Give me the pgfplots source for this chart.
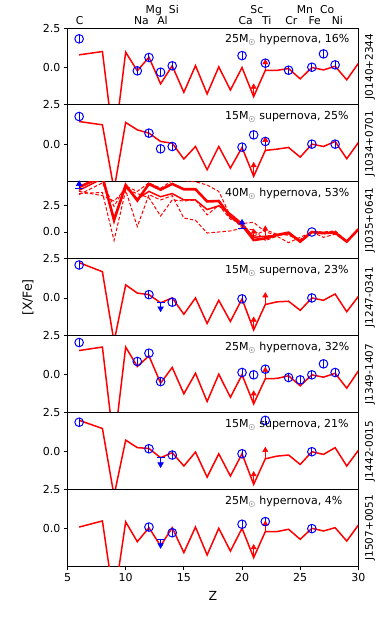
\documentclass[border=0pt]{standalone}
\usepackage{pgfplots}
\pgfplotsset{compat=1.18}
\usepackage{fontspec}
\setmainfont{DejaVu Sans}

\pgfplotsset{
  panel/.style={scale only axis, width=290.9pt, height=76.9pt, anchor=south west,
    xmin=5, xmax=30, ymin=-2.4, ymax=2.5, ytick={0,2.5}, yticklabels={0.0,2.5},
    xtick=\empty, tick align=outside, ytick pos=left, xtick pos=bottom,
    major tick length=3.5pt, axis line style={line width=0.8pt},
    tick style={black, line width=0.8pt},
    tick label style={font=\fontsize{11}{13}\selectfont},
    /pgf/number format/assume math mode=true},
  model/.style={red, line width=1.5pt, no markers},
  obs/.style={blue, only marks, mark=o, mark size=4.3pt, line width=1pt,
    error bars/.cd, y dir=both, y fixed=0.25, error mark=none,
    error bar style={line width=1pt, blue}},
}
% limit marker with bar: colour, Z, base, tip, rotation of the head
\newcommand{\limmark}[5]{%
  \addplot[#1, line width=1pt, forget plot] coordinates {(#2,#3) (#2,#4)};
  \addplot[#1, only marks, mark=-, mark size=4pt, mark options={line width=1pt}, forget plot] coordinates {(#2,#3)};
  \addplot[#1, only marks, mark=triangle*, mark size=3.3pt, mark options={rotate=#5}, forget plot] coordinates {(#2,#4)};
}
% model lower limit (red arrow): Z, base, tip
\newcommand{\modarrow}[3]{%
  \addplot[red, line width=1pt, forget plot] coordinates {(#1,#2) (#1,#3)};
  \addplot[red, only marks, mark=triangle*, mark size=3pt, forget plot] coordinates {(#1,#3)};
}

\begin{document}
\begin{tikzpicture}[x=1pt, y=1pt]
\path (0,0) rectangle (390,625);

% J0140+2344
\begin{axis}[panel, at={(67.5pt,520.1pt)}]
\addplot[model] coordinates {(6,0.79)(8,1.0)(9,-5)(10,0.96)(11,-0.23)(12,0.64)(13,-1.06)(14,0.09)(15,-1.6)(16,0.1)(17,-1.7)(18,0.02)(19,-1.45)(20,-0.02)(21,-1.87)(22,-0.2)(23,-0.2)(24,-0.08)(25,-0.74)(26,-0.02)(27,-0.17)(28,0.06)(29,-0.8)(30,0.25)};
\modarrow{21}{-1.87}{-1.25}
\modarrow{22}{-0.2}{0.3}
\addplot[obs] coordinates {(6,1.81)(11,-0.23)(12,0.62)(13,-0.32)(14,0.09)(20,0.74)(22,0.26)(24,-0.19)(26,0.0)(27,0.85)(28,0.15)};
\end{axis}

% J1034+0701
\begin{axis}[panel, at={(67.5pt,443.2pt)}]
\addplot[model] coordinates {(6,1.44)(8,1.23)(9,-2.9)(10,1.38)(11,0.91)(12,0.70)(13,0.17)(14,0.06)(15,-0.95)(16,-0.15)(17,-1.63)(18,-0.15)(19,-1.53)(20,-0.21)(21,-2.05)(22,-0.4)(23,-0.32)(24,-0.21)(25,-0.83)(26,0.0)(27,-0.15)(28,0.17)(29,-0.93)(30,0.1)};
\modarrow{21}{-2.05}{-1.35}
\modarrow{22}{-0.4}{0.26}
\addplot[obs] coordinates {(6,1.76)(12,0.70)(13,-0.3)(14,-0.15)(20,-0.19)(21,0.59)(22,0.17)(26,0.0)(28,0.0)};
\end{axis}

% J1035+0641
\begin{axis}[panel, at={(67.5pt,366.3pt)}, ymin=-2.5, ymax=4.7]
\addplot[red, line width=1pt, dash pattern=on 3.5pt off 2pt] coordinates {(6,3.6)(8,3.7)(9,-0.8)(10,3.9)(11,0.5)(12,3.5)(13,3.0)(14,3.4)(15,1.3)(16,1.1)(17,-0.1)(18,0.0)(19,0.1)(20,0.35)(21,0.2)(22,-0.8)(23,-0.4)(24,-1.0)(25,-0.5)(26,0.0)(27,-0.5)(28,-0.2)(29,-0.9)(30,0.25)};
\addplot[red, line width=1pt, dash pattern=on 3.5pt off 2pt] coordinates {(6,3.8)(8,3.4)(9,2.9)(10,4.0)(11,3.6)(12,3.2)(13,1.5)(14,3.0)(15,2.9)(16,3.0)(17,1.6)(18,2.5)(19,1.2)(20,0.8)(21,0.9)(22,0.0)(23,-0.3)(24,-0.2)(25,-0.7)(26,0.0)(27,-0.2)(28,0.1)(29,-0.9)(30,0.25)};
\addplot[red, line width=1pt, dash pattern=on 3.5pt off 2pt] coordinates {(6,3.5)(8,4.6)(9,2.4)(10,4.3)(11,3.8)(12,4.6)(13,4.1)(14,4.8)(15,4.8)(16,4.7)(17,4.4)(18,3.8)(19,1.5)(20,0.4)(21,-0.4)(22,0.2)(23,-0.2)(24,-0.3)(25,-0.8)(26,0.0)(27,0.0)(28,0.1)(29,-0.9)(30,0.25)};
\addplot[red, line width=1.5pt] coordinates {(6,3.9)(8,5.0)(9,1.3)(10,4.2)(11,3.1)(12,3.8)(13,3.3)(14,3.6)(15,3.0)(16,3.0)(17,2.1)(18,2.45)(19,1.7)(20,0.8)(21,-0.5)(22,-0.4)(23,-0.3)(24,-0.15)(25,-0.9)(26,0.0)(27,-0.1)(28,-0.05)(29,-0.9)(30,0.25)};
\addplot[red, line width=2.6pt] coordinates {(6,4.2)(8,5.2)(9,1.1)(10,4.4)(11,2.95)(12,4.5)(13,3.96)(14,4.5)(15,4.0)(16,4.0)(17,2.86)(18,2.9)(19,1.45)(20,0.66)(21,-0.75)(22,-0.6)(23,-0.28)(24,-0.06)(25,-0.9)(26,0.0)(27,-0.1)(28,-0.05)(29,-0.9)(30,0.25)};
\modarrow{21}{-0.7}{0.0}
\modarrow{22}{-0.5}{0.3}
\limmark{blue}{6}{4.05}{4.5}{0}
\limmark{blue}{20}{0.35}{0.88}{0}
\addplot[blue, only marks, mark=o, mark size=4.3pt, line width=1pt] coordinates {(26,0.0)};
\end{axis}

% J1247-0341
\begin{axis}[panel, at={(67.5pt,289.4pt)}]
\addplot[model] coordinates {(6,2.25)(8,1.67)(9,-2.8)(10,0.83)(11,0.31)(12,0.21)(13,-0.31)(14,0.0)(15,-1.04)(16,0.0)(17,-1.63)(18,-0.15)(19,-1.5)(20,-0.06)(21,-2.04)(22,-0.42)(23,-0.25)(24,-0.21)(25,-0.79)(26,0.0)(27,-0.15)(28,0.25)(29,-0.88)(30,0.1)};
\modarrow{21}{-2.04}{-1.4}
\modarrow{22}{-0.42}{0.15}
\limmark{blue}{13}{-0.27}{-0.67}{180}
\addplot[obs] coordinates {(6,2.1)(12,0.21)(14,-0.27)(20,-0.06)(26,0.0)};
\end{axis}

% J1349-1407
\begin{axis}[panel, at={(67.5pt,212.5pt)}]
\addplot[model] coordinates {(6,1.55)(8,1.77)(9,-4.5)(10,1.77)(11,0.53)(12,1.21)(13,-0.53)(14,0.47)(15,-1.21)(16,0.1)(17,-1.7)(18,0.04)(19,-1.43)(20,0.0)(21,-1.85)(22,-0.25)(23,-0.23)(24,-0.06)(25,-0.7)(26,0.0)(27,-0.15)(28,0.1)(29,-0.85)(30,0.25)};
\modarrow{21}{-1.85}{-1.2}
\modarrow{22}{-0.25}{0.3}
\addplot[obs] coordinates {(6,2.06)(11,0.85)(12,1.38)(13,-0.43)(20,0.15)(21,0.0)(22,0.36)(24,-0.17)(25,-0.32)(26,0.0)(27,0.7)(28,0.15)};
\end{axis}

% J1442-0015
\begin{axis}[panel, at={(67.5pt,135.6pt)}]
\addplot[model] coordinates {(6,2.0)(8,1.48)(9,-2.8)(10,0.74)(11,0.26)(12,0.21)(13,-0.38)(14,-0.06)(15,-0.91)(16,-0.02)(17,-1.62)(18,-0.13)(19,-1.55)(20,-0.13)(21,-2.08)(22,-0.45)(23,-0.28)(24,-0.21)(25,-0.81)(26,0.0)(27,-0.17)(28,0.26)(29,-0.91)(30,0.09)};
\modarrow{21}{-2.08}{-1.45}
\modarrow{22}{-0.45}{0.1}
\limmark{blue}{13}{-0.38}{-0.8}{180}
\addplot[obs] coordinates {(6,1.88)(12,0.19)(14,-0.21)(20,-0.13)(22,2.0)(26,0.0)};
\end{axis}

% J1507+0051
\begin{axis}[panel, at={(67.5pt,58.7pt)}, xtick={5,10,...,30}]
\addplot[model] coordinates {(6,0.1)(8,0.49)(9,-4.6)(10,0.43)(11,-0.83)(12,0.06)(13,-1.1)(14,0.06)(15,-1.53)(16,0.1)(17,-1.68)(18,0.02)(19,-1.43)(20,0.02)(21,-1.85)(22,-0.19)(23,-0.19)(24,-0.04)(25,-0.68)(26,0.02)(27,-0.15)(28,0.06)(29,-0.79)(30,0.23)};
\modarrow{21}{-1.85}{-1.2}
\modarrow{22}{-0.19}{0.3}
\limmark{blue}{13}{-0.72}{-1.05}{180}
\addplot[obs] coordinates {(12,0.1)(14,-0.26)(20,0.28)(22,0.45)(26,0.0)};
\end{axis}

% model labels
\begin{scope}[every node/.style={anchor=base west, inner sep=0pt, font=\fontsize{11}{13}\selectfont}]
\node at (225,582) {25M$_\odot$ hypernova, 16\%};
\node at (225,505.1) {15M$_\odot$ supernova, 25\%};
\node at (225,428.2) {40M$_\odot$ hypernova, 53\%};
\node at (225,351.3) {15M$_\odot$ supernova, 23\%};
\node at (225,274.4) {25M$_\odot$ hypernova, 32\%};
\node at (225,197.5) {15M$_\odot$ supernova, 21\%};
\node at (225,120.6) {25M$_\odot$ hypernova, 4\%};
\end{scope}

% element names
\begin{scope}[every node/.style={anchor=base west, inner sep=0pt, font=\fontsize{10.8}{13}\selectfont}]
\node at (75.6,600) {C};
\node at (133.8,600) {Na};
\node at (145.5,611) {Mg};
\node at (157.1,600) {Al};
\node at (168.7,611) {Si};
\node at (238.5,600) {Ca};
\node at (250.2,611) {Sc};
\node at (261.8,600) {Ti};
\node at (285.1,600) {Cr};
\node at (296.7,611) {Mn};
\node at (308.4,600) {Fe};
\node at (320.0,611) {Co};
\node at (331.6,600) {Ni};
\end{scope}

% star names
\begin{scope}[every node/.style={rotate=90, inner sep=0pt, font=\fontsize{10.5}{12}\selectfont}]
\node at (370,558.55) {J0140+2344};
\node at (370,481.65) {J1034+0701};
\node at (370,404.75) {J1035+0641};
\node at (370,327.85) {J1247-0341};
\node at (370,250.95) {J1349-1407};
\node at (370,174.05) {J1442-0015};
\node at (370,97.15) {J1507+0051};
\end{scope}

\node[rotate=90, font=\fontsize{12.5}{14}\selectfont] at (28,327.5) {[X/Fe]};
\node[font=\fontsize{12.5}{14}\selectfont] at (213,29.3) {Z};
\end{tikzpicture}
\end{document}
